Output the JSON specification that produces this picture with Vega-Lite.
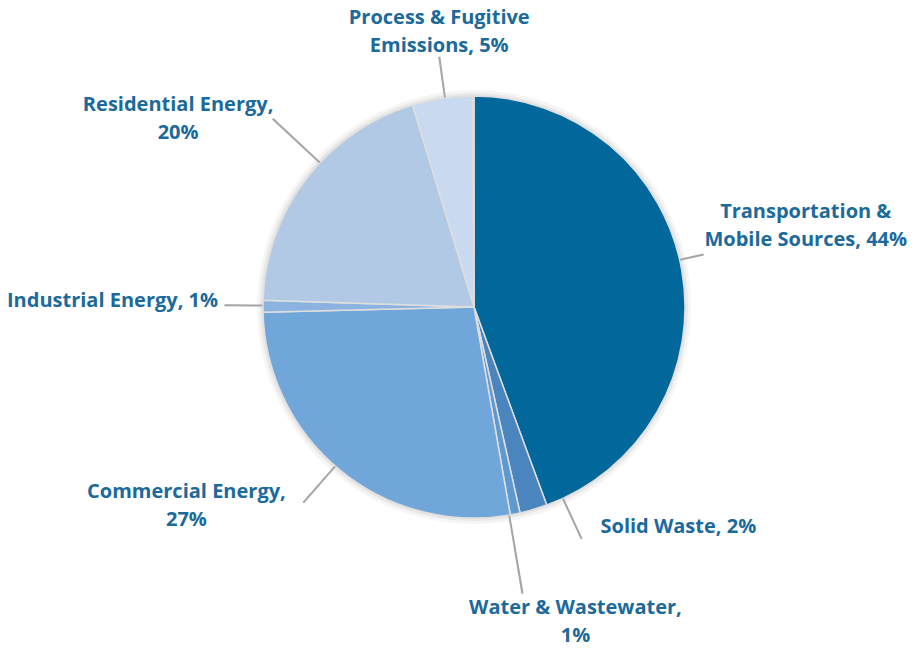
{
  "$schema": "https://vega.github.io/schema/vega-lite/v6.json",
  "autosize": "none",
  "width": 880,
  "height": 600,
  "padding": {"left": 34, "top": 7, "right": 6, "bottom": 46},
  "background": "white",
  "config": {"view": {"stroke": null}},
  "data": {
    "values": [
      {"category": "Transportation & Mobile Sources", "value": 44.4, "label": "Transportation &\nMobile Sources, 44%", "order": 1},
      {"category": "Solid Waste", "value": 2.1, "label": "Solid Waste, 2%", "order": 2},
      {"category": "Water & Wastewater", "value": 0.75, "label": "Water & Wastewater,\n1%", "order": 3},
      {"category": "Commercial Energy", "value": 27.35, "label": "Commercial Energy,\n27%", "order": 4},
      {"category": "Industrial Energy", "value": 0.9, "label": "Industrial Energy, 1%", "order": 5},
      {"category": "Residential Energy", "value": 19.8, "label": "Residential Energy,\n20%", "order": 6},
      {"category": "Process & Fugitive Emissions", "value": 4.6, "label": "Process & Fugitive\nEmissions, 5%", "order": 7},
      {"category": "Other", "value": 0.1, "label": "", "order": 8}
    ]
  },
  "encoding": {
    "theta": {"field": "value", "type": "quantitative", "stack": true},
    "order": {"field": "order", "type": "quantitative"}
  },
  "layer": [
    {"mark": {"type": "arc", "radius": 217, "fill": "#000000", "fillOpacity": 0.04, "stroke": null}},
    {"mark": {"type": "arc", "radius": 214, "fill": "#000000", "fillOpacity": 0.05, "stroke": null}},
    {
      "mark": {"type": "arc", "radius": 211, "stroke": "#dedede", "strokeWidth": 1.5},
      "encoding": {
        "color": {
          "field": "category",
          "type": "nominal",
          "legend": null,
          "scale": {
            "domain": ["Transportation & Mobile Sources", "Solid Waste", "Water & Wastewater", "Commercial Energy", "Industrial Energy", "Residential Energy", "Process & Fugitive Emissions", "Other"],
            "range": ["#02679a", "#4a86bd", "#5e9ad2", "#71a6da", "#8cb3e0", "#b2c9e6", "#c9d9ef", "#7f96ab"]
          }
        }
      }
    },
    {
      "transform": [{"stack": "value", "groupby": [], "sort": [{"field": "order", "order": "ascending"}], "as": ["v0", "v1"]}, {"filter": "datum.category === 'Transportation & Mobile Sources'"}],
      "mark": {"type": "arc", "radius": 235, "radius2": 212, "fill": "#a6a6a6", "stroke": "#a6a6a6", "strokeWidth": 1.2, "thetaOffset": 1.3439, "theta2Offset": 1.3474},
      "encoding": {"theta": {"field": "v0", "type": "quantitative", "stack": null}, "theta2": {"field": "v0"}}
    },
    {
      "transform": [{"stack": "value", "groupby": [], "sort": [{"field": "order", "order": "ascending"}], "as": ["v0", "v1"]}, {"filter": "datum.category === 'Solid Waste'"}],
      "mark": {"type": "arc", "radius": 255, "radius2": 212, "fill": "#a6a6a6", "stroke": "#a6a6a6", "strokeWidth": 1.2, "thetaOffset": -0.0845, "theta2Offset": -0.0810},
      "encoding": {"theta": {"field": "v0", "type": "quantitative", "stack": null}, "theta2": {"field": "v0"}}
    },
    {
      "transform": [{"stack": "value", "groupby": [], "sort": [{"field": "order", "order": "ascending"}], "as": ["v0", "v1"]}, {"filter": "datum.category === 'Water & Wastewater'"}],
      "mark": {"type": "arc", "radius": 290, "radius2": 212, "fill": "#a6a6a6", "stroke": "#a6a6a6", "strokeWidth": 1.2, "thetaOffset": 0.0506, "theta2Offset": 0.0541},
      "encoding": {"theta": {"field": "v0", "type": "quantitative", "stack": null}, "theta2": {"field": "v0"}}
    },
    {
      "transform": [{"stack": "value", "groupby": [], "sort": [{"field": "order", "order": "ascending"}], "as": ["v0", "v1"]}, {"filter": "datum.category === 'Commercial Energy'"}],
      "mark": {"type": "arc", "radius": 259, "radius2": 212, "fill": "#a6a6a6", "stroke": "#a6a6a6", "strokeWidth": 1.2, "thetaOffset": 0.8884, "theta2Offset": 0.8919},
      "encoding": {"theta": {"field": "v0", "type": "quantitative", "stack": null}, "theta2": {"field": "v0"}}
    },
    {
      "transform": [{"stack": "value", "groupby": [], "sort": [{"field": "order", "order": "ascending"}], "as": ["v0", "v1"]}, {"filter": "datum.category === 'Industrial Energy'"}],
      "mark": {"type": "arc", "radius": 249, "radius2": 212, "fill": "#a6a6a6", "stroke": "#a6a6a6", "strokeWidth": 1.2, "thetaOffset": 0.0304, "theta2Offset": 0.0339},
      "encoding": {"theta": {"field": "v0", "type": "quantitative", "stack": null}, "theta2": {"field": "v0"}}
    },
    {
      "transform": [{"stack": "value", "groupby": [], "sort": [{"field": "order", "order": "ascending"}], "as": ["v0", "v1"]}, {"filter": "datum.category === 'Residential Energy'"}],
      "mark": {"type": "arc", "radius": 275, "radius2": 212, "fill": "#a6a6a6", "stroke": "#a6a6a6", "strokeWidth": 1.2, "thetaOffset": 0.7191, "theta2Offset": 0.7226},
      "encoding": {"theta": {"field": "v0", "type": "quantitative", "stack": null}, "theta2": {"field": "v0"}}
    },
    {
      "transform": [{"stack": "value", "groupby": [], "sort": [{"field": "order", "order": "ascending"}], "as": ["v0", "v1"]}, {"filter": "datum.category === 'Process & Fugitive Emissions'"}],
      "mark": {"type": "arc", "radius": 252, "radius2": 212, "fill": "#a6a6a6", "stroke": "#a6a6a6", "strokeWidth": 1.2, "thetaOffset": 0.1557, "theta2Offset": 0.1592},
      "encoding": {"theta": {"field": "v0", "type": "quantitative", "stack": null}, "theta2": {"field": "v0"}}
    },
    {
      "mark": {"type": "text", "radius": 341, "dx": -4, "dy": -35, "align": "center", "baseline": "middle", "lineBreak": "\n", "lineHeight": 28, "font": "Open Sans", "fontWeight": "bold", "fontSize": 20, "fill": "#1b6a9b"},
      "encoding": {"text": {"condition": {"test": "datum.category === 'Transportation & Mobile Sources'", "field": "label", "type": "nominal"}, "value": ""}}
    },
    {
      "mark": {"type": "text", "radius": 250, "dx": 56, "dy": -20, "align": "left", "baseline": "middle", "lineBreak": "\n", "lineHeight": 28, "font": "Open Sans", "fontWeight": "bold", "fontSize": 20, "fill": "#1b6a9b"},
      "encoding": {"text": {"condition": {"test": "datum.category === 'Solid Waste'", "field": "label", "type": "nominal"}, "value": ""}}
    },
    {
      "mark": {"type": "text", "radius": 315, "dx": 40, "dy": -8, "align": "center", "baseline": "middle", "lineBreak": "\n", "lineHeight": 28, "font": "Open Sans", "fontWeight": "bold", "fontSize": 20, "fill": "#1b6a9b"},
      "encoding": {"text": {"condition": {"test": "datum.category === 'Water & Wastewater'", "field": "label", "type": "nominal"}, "value": ""}}
    },
    {
      "mark": {"type": "text", "radius": 337, "dx": -74, "dy": -76, "align": "center", "baseline": "middle", "lineBreak": "\n", "lineHeight": 28, "font": "Open Sans", "fontWeight": "bold", "fontSize": 20, "fill": "#1b6a9b"},
      "encoding": {"text": {"condition": {"test": "datum.category === 'Commercial Energy'", "field": "label", "type": "nominal"}, "value": ""}}
    },
    {
      "mark": {"type": "text", "radius": 256, "dx": 0, "dy": -5, "align": "right", "baseline": "middle", "lineBreak": "\n", "lineHeight": 28, "font": "Open Sans", "fontWeight": "bold", "fontSize": 20, "fill": "#1b6a9b"},
      "encoding": {"text": {"condition": {"test": "datum.category === 'Industrial Energy'", "field": "label", "type": "nominal"}, "value": ""}}
    },
    {
      "mark": {"type": "text", "radius": 350, "dx": -18, "dy": 11, "align": "center", "baseline": "middle", "lineBreak": "\n", "lineHeight": 28, "font": "Open Sans", "fontWeight": "bold", "fontSize": 20, "fill": "#1b6a9b"},
      "encoding": {"text": {"condition": {"test": "datum.category === 'Residential Energy'", "field": "label", "type": "nominal"}, "value": ""}}
    },
    {
      "mark": {"type": "text", "radius": 278, "dx": 7, "dy": -14, "align": "center", "baseline": "middle", "lineBreak": "\n", "lineHeight": 28, "font": "Open Sans", "fontWeight": "bold", "fontSize": 20, "fill": "#1b6a9b"},
      "encoding": {"text": {"condition": {"test": "datum.category === 'Process & Fugitive Emissions'", "field": "label", "type": "nominal"}, "value": ""}}
    }
  ]
}
